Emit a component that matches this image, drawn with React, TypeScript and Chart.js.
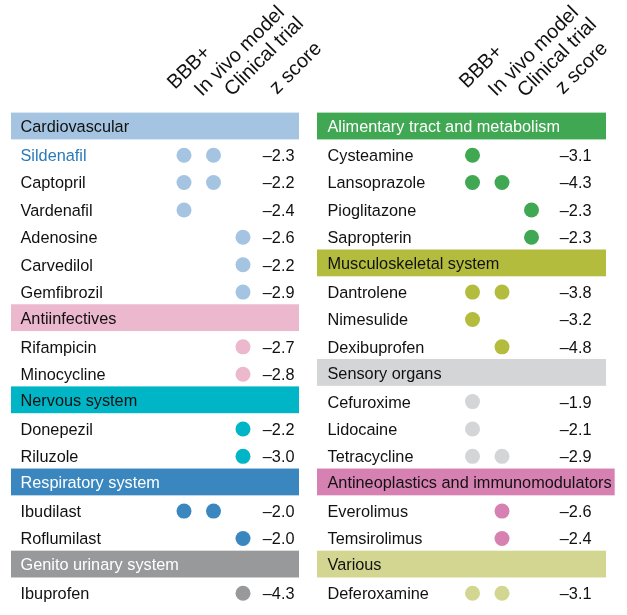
import React, { useEffect, useRef } from "react";
import { Chart, registerables } from "chart.js";

Chart.register(...registerables);

// ---------- data ----------
const categories = [
  "Cardiovascular",
  "Antiinfectives",
  "Nervous system",
  "Respiratory system",
  "Genito urinary system",
  "Alimentary tract and metabolism",
  "Musculoskeletal system",
  "Sensory organs",
  "Antineoplastics and immunomodulators",
  "Various",
];
const categoryPanel = [0, 0, 0, 0, 0, 1, 1, 1, 1, 1];
const categoryColors = [
  "#a5c4e1", "#ebb8cd", "#00b5c5", "#3a87c0", "#98999b",
  "#40a853", "#b3bc3c", "#d4d5d7", "#d681b2", "#d3d690",
];
const categoryTextColors = [
  "#111111", "#111111", "#111111", "#ffffff", "#ffffff",
  "#ffffff", "#111111", "#111111", "#111111", "#111111",
];

const drugs = [
  "Sildenafil", "Captopril", "Vardenafil", "Adenosine", "Carvedilol", "Gemfibrozil",
  "Rifampicin", "Minocycline",
  "Donepezil", "Riluzole",
  "Ibudilast", "Roflumilast",
  "Ibuprofen",
  "Cysteamine", "Lansoprazole", "Pioglitazone", "Sapropterin",
  "Dantrolene", "Nimesulide", "Dexibuprofen",
  "Cefuroxime", "Lidocaine", "Tetracycline",
  "Everolimus", "Temsirolimus",
  "Deferoxamine",
];
const drugCategory = [
  0, 0, 0, 0, 0, 0,
  1, 1,
  2, 2,
  3, 3,
  4,
  5, 5, 5, 5,
  6, 6, 6,
  7, 7, 7,
  8, 8,
  9,
];
const bbbPlus = [
  1, 1, 1, 0, 0, 0,
  0, 0,
  0, 0,
  1, 0,
  0,
  1, 1, 0, 0,
  1, 1, 0,
  1, 1, 1,
  0, 0,
  1,
];
const inVivoModel = [
  1, 1, 0, 0, 0, 0,
  0, 0,
  0, 0,
  1, 0,
  0,
  0, 1, 0, 0,
  1, 0, 1,
  0, 0, 1,
  1, 1,
  1,
];
const clinicalTrial = [
  0, 0, 0, 1, 1, 1,
  1, 1,
  1, 1,
  0, 1,
  1,
  0, 0, 1, 1,
  0, 0, 0,
  0, 0, 0,
  0, 0,
  0,
];
const zScores = [
  -2.3, -2.2, -2.4, -2.6, -2.2, -2.9,
  -2.7, -2.8,
  -2.2, -3.0,
  -2.0, -2.0,
  -4.3,
  -3.1, -4.3, -2.3, -2.3,
  -3.8, -3.2, -4.8,
  -1.9, -2.1, -2.9,
  -2.6, -2.4,
  -3.1,
];
const highlightedDrugs = ["Sildenafil"];
const columnTitles = ["BBB+", "In vivo model", "Clinical trial", "z score"];

// ---------- layout / style ----------
const W = 627;
const H = 615;
const ROW0_Y = 127.8;
const ROW_PITCH = 27.38;
const FONT = '"Liberation Sans", Arial, Helvetica, sans-serif';
const BODY_FONT = `16.3px ${FONT}`;
const TITLE_FONT = `20px ${FONT}`;
const TEXT_COLOR = "#111111";
const HIGHLIGHT_COLOR = "#2a7ab9";
const DOT_RADIUS = 7.5;
const PANELS = [
  {
    colX: [184, 213.5, 243], nameX: 20.5, zRight: 294.5, barL: 11, barR: 299,
    titleX: [175, 202, 232, 277], titleY: [90, 97, 97, 95],
  },
  {
    colX: [472.5, 502, 531.5], nameX: 327.5, zRight: 591.5, barL: 317, barR: 606,
    titleX: [467, 496, 525, 563], titleY: [89, 97, 98, 95],
  },
];

type RowItem = { kind: "header" | "drug"; index: number; panel: number; row: number };

function buildRows(): RowItem[] {
  const items: RowItem[] = [];
  const rowCount = [0, 0];
  categories.forEach((_, c) => {
    const p = categoryPanel[c];
    items.push({ kind: "header", index: c, panel: p, row: rowCount[p]++ });
    drugs.forEach((_, d) => {
      if (drugCategory[d] === c) items.push({ kind: "drug", index: d, panel: p, row: rowCount[p]++ });
    });
  });
  return items;
}

export default function App() {
  const canvasRef = useRef<HTMLCanvasElement | null>(null);

  useEffect(() => {
    const canvas = canvasRef.current;
    if (!canvas) return;
    const rows = buildRows();
    const drugRows = rows.filter((r) => r.kind === "drug");
    const flags = [bbbPlus, inVivoModel, clinicalTrial];

    const datasets = flags.map((flag, col) => {
      const pts = drugRows.filter((r) => flag[r.index] === 1);
      return {
        label: columnTitles[col],
        data: pts.map((r) => ({ x: PANELS[r.panel].colX[col], y: r.row })),
        backgroundColor: pts.map((r) => categoryColors[drugCategory[r.index]]),
        pointBackgroundColor: pts.map((r) => categoryColors[drugCategory[r.index]]),
        pointRadius: DOT_RADIUS,
        pointHoverRadius: DOT_RADIUS,
        pointBorderWidth: 0,
        borderWidth: 0,
      };
    });

    const tablePlugin = {
      id: "tableDecor",
      beforeDatasetsDraw(chart: any) {
        const { ctx, scales } = chart;
        const xs = scales.x;
        const ys = scales.y;
        ctx.save();
        ctx.font = BODY_FONT;
        rows.filter((r) => r.kind === "header").forEach((r) => {
          const pan = PANELS[r.panel];
          const top = ys.getPixelForValue(r.row - 15.2 / ROW_PITCH);
          const bot = ys.getPixelForValue(r.row + 11.6 / ROW_PITCH);
          const left = xs.getPixelForValue(pan.barL);
          const textEnd = xs.getPixelForValue(pan.nameX) + ctx.measureText(categories[r.index]).width + 3;
          const right = Math.max(xs.getPixelForValue(pan.barR), textEnd);
          ctx.fillStyle = categoryColors[r.index];
          ctx.fillRect(left, top, right - left, bot - top);
        });
        ctx.restore();
      },
      afterDatasetsDraw(chart: any) {
        const { ctx, scales } = chart;
        const xs = scales.x;
        const ys = scales.y;
        ctx.save();
        ctx.textBaseline = "alphabetic";
        ctx.font = BODY_FONT;
        rows.forEach((r) => {
          const pan = PANELS[r.panel];
          const yc = ys.getPixelForValue(r.row);
          if (r.kind === "header") {
            ctx.textAlign = "left";
            ctx.fillStyle = categoryTextColors[r.index];
            ctx.fillText(categories[r.index], xs.getPixelForValue(pan.nameX), yc + 4.4);
          } else {
            const name = drugs[r.index];
            ctx.textAlign = "left";
            ctx.fillStyle = highlightedDrugs.includes(name) ? HIGHLIGHT_COLOR : TEXT_COLOR;
            ctx.fillText(name, xs.getPixelForValue(pan.nameX), yc + 5.9);
            ctx.textAlign = "right";
            ctx.fillStyle = TEXT_COLOR;
            const z = zScores[r.index];
            const label = (z < 0 ? "\u2013" : "") + Math.abs(z).toFixed(1);
            ctx.fillText(label, xs.getPixelForValue(pan.zRight), yc + 5.9);
          }
        });
        // rotated column titles
        ctx.font = TITLE_FONT;
        ctx.fillStyle = TEXT_COLOR;
        ctx.textAlign = "left";
        PANELS.forEach((pan) => {
          columnTitles.forEach((t, i) => {
            ctx.save();
            ctx.translate(xs.getPixelForValue(pan.titleX[i]), pan.titleY[i]);
            ctx.rotate(-Math.PI / 4);
            ctx.fillText(t, 0, 0);
            ctx.restore();
          });
        });
        ctx.restore();
      },
    };

    const chart = new Chart(canvas, {
      type: "scatter",
      data: { datasets: datasets as any },
      options: {
        animation: false,
        responsive: false,
        maintainAspectRatio: false,
        devicePixelRatio: 1,
        events: [],
        layout: { padding: 0, autoPadding: false },
        plugins: { legend: { display: false }, tooltip: { enabled: false } },
        scales: {
          x: { type: "linear", display: false, min: 0, max: W },
          y: {
            type: "linear",
            display: false,
            reverse: true,
            min: -ROW0_Y / ROW_PITCH,
            max: (H - ROW0_Y) / ROW_PITCH,
          },
        },
      },
      plugins: [tablePlugin],
    });
    return () => chart.destroy();
  }, []);

  return (
    <div style={{ position: "absolute", left: 0, top: 0, width: W, height: H, background: "#ffffff" }}>
      <canvas ref={canvasRef} width={W} height={H} style={{ display: "block", width: W, height: H }} />
    </div>
  );
}
